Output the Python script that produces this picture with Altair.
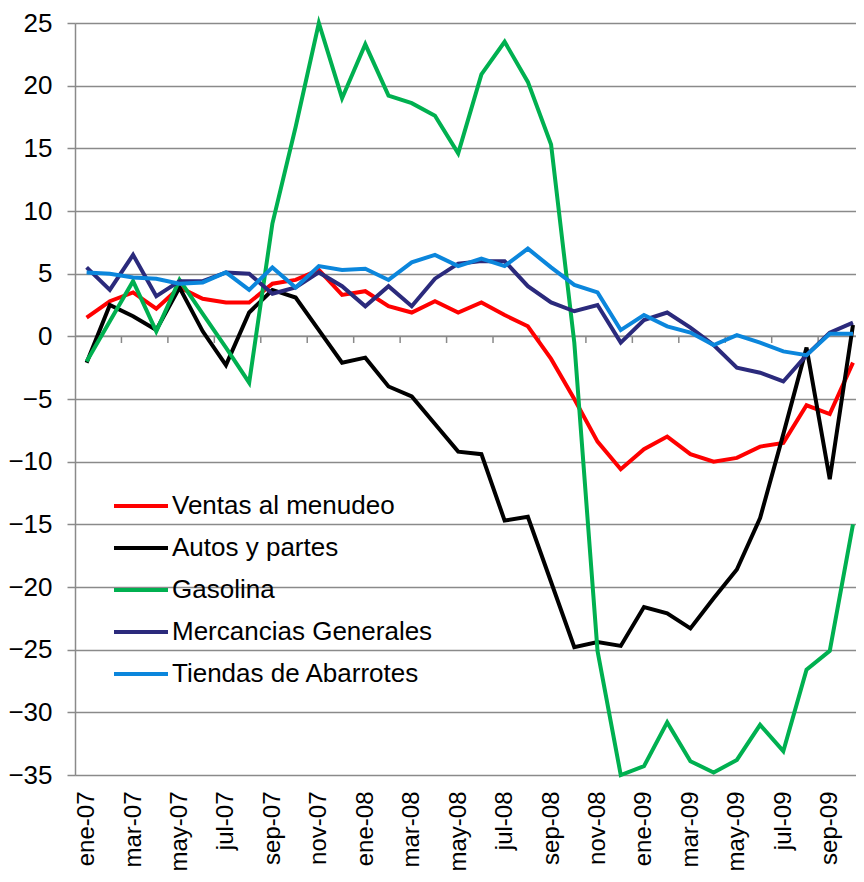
import altair as alt
import pandas as pd

meses = ["ene-07","feb-07","mar-07","abr-07","may-07","jun-07","jul-07","ago-07","sep-07","oct-07","nov-07","dic-07",
         "ene-08","feb-08","mar-08","abr-08","may-08","jun-08","jul-08","ago-08","sep-08","oct-08","nov-08","dic-08",
         "ene-09","feb-09","mar-09","abr-09","may-09","jun-09","jul-09","ago-09","sep-09","oct-09"]

series_names = ["Ventas al menudeo", "Autos y partes", "Gasolina", "Mercancias Generales", "Tiendas de Abarrotes"]
series_colors = ["#FF0000", "#000000", "#00B050", "#2B2A7C", "#0B86DC"]

ventas = [1.5, 2.8, 3.5, 2.2, 3.9, 3.0, 2.7, 2.7, 4.2, 4.5, 5.3, 3.3,
          3.6, 2.4, 1.9, 2.8, 1.9, 2.7, 1.7, 0.8, -1.8, -5.0, -8.4, -10.6,
          -9.0, -8.0, -9.4, -10.0, -9.7, -8.8, -8.5, -5.5, -6.2, -2.1]
autos = [-2.1, 2.5, 1.6, 0.5, 3.9, 0.4, -2.3, 1.9, 3.7, 3.1, 0.5, -2.1,
         -1.7, -4.0, -4.8, -7.0, -9.2, -9.4, -14.7, -14.4, -19.6, -24.8, -24.4, -24.7,
         -21.6, -22.1, -23.3, -20.9, -18.6, -14.5, -7.8, -0.9, -11.4, 0.9]
gasolina = [-2.0, 1.2, 4.4, 0.4, 4.5, 1.8, -0.9, -3.7, 9.0, 16.7, 25.0, 19.0,
            23.3, 19.2, 18.6, 17.6, 14.6, 20.9, 23.5, 20.3, 15.3, -0.5, -25.1, -35.0,
            -34.3, -30.8, -33.9, -34.8, -33.8, -31.0, -33.1, -26.6, -25.1, -15.0]
mercancias = [5.5, 3.7, 6.5, 3.2, 4.4, 4.4, 5.1, 5.0, 3.4, 3.9, 5.1, 4.0,
              2.4, 4.0, 2.4, 4.6, 5.8, 6.0, 6.0, 4.0, 2.7, 2.0, 2.5, -0.5,
              1.3, 1.9, 0.7, -0.7, -2.5, -2.9, -3.6, -1.5, 0.3, 1.1]
tiendas = [5.1, 5.0, 4.7, 4.6, 4.2, 4.3, 5.1, 3.7, 5.5, 3.9, 5.6, 5.3,
           5.4, 4.5, 5.9, 6.5, 5.6, 6.2, 5.6, 7.0, 5.5, 4.1, 3.5, 0.5,
           1.7, 0.8, 0.3, -0.7, 0.1, -0.5, -1.2, -1.5, 0.2, 0.2]

y_ticks = list(range(-35, 30, 5))

all_values = [ventas, autos, gasolina, mercancias, tiendas]
rows = []
for name, vals in zip(series_names, all_values):
    for i, v in enumerate(vals):
        rows.append({"idx": i, "mes": meses[i], "serie": name, "valor": v})
df = pd.DataFrame(rows)

n = len(meses)
label_values = list(range(0, n, 2))
tick_df = pd.DataFrame({"b": [i + 1.5 for i in range(0, n - 1, 2)], "y0": 0.0, "y1": -0.53})
zero_df = pd.DataFrame({"y": [0.0]})

months_js = "[" + ",".join("'" + m + "'" for m in meses) + "]"

FONT = "Liberation Sans"
GRID = "#8A8A8A"

x_scale = alt.Scale(domain=[-0.5, 33.13], nice=False, zero=False)
y_scale = alt.Scale(domain=[-35, 25], nice=False, zero=False)

lines = alt.Chart(df).mark_line(strokeWidth=4, strokeJoin="miter").encode(
    x=alt.X("idx:Q", scale=x_scale,
            axis=alt.Axis(values=label_values, labelExpr=months_js + "[datum.value]",
                          labelAngle=-90, labelFontSize=24, labelFont=FONT, labelColor="#000000",
                          labelPadding=16, domain=False, ticks=False, grid=False, title=None,
                          labelOverlap=False, labelFlush=False)),
    y=alt.Y("valor:Q", scale=y_scale,
            axis=alt.Axis(values=y_ticks, labelFontSize=26, labelFont=FONT, labelColor="#000000",
                          labelPadding=15, tickSize=8, tickColor=GRID, tickWidth=1.5,
                          domainColor=GRID, domainWidth=1.5,
                          grid=True, gridColor=GRID, gridWidth=1.5, title=None)),
    color=alt.Color("serie:N", scale=alt.Scale(domain=series_names, range=series_colors),
                    legend=alt.Legend(orient="none", legendX=37, legendY=454, title=None,
                                      symbolType="stroke", symbolSize=2916, symbolStrokeWidth=4,
                                      labelFontSize=26, labelFont=FONT, labelColor="#000000",
                                      labelOffset=2, rowPadding=-0.5, padding=0,
                                      labelLimit=400)),
    order=alt.Order("idx:Q"),
)

zero_line = alt.Chart(zero_df).mark_rule(color=GRID, strokeWidth=1.5).encode(
    y=alt.Y("y:Q", scale=y_scale)
)

ticks = alt.Chart(tick_df).mark_rule(color=GRID, strokeWidth=1.5).encode(
    x=alt.X("b:Q", scale=x_scale),
    y=alt.Y("y0:Q", scale=y_scale),
    y2="y1:Q",
)

chart = alt.layer(zero_line, ticks, lines).properties(
    width=781, height=752,
    autosize=alt.AutoSizeParams(type="none"),
    padding={"left": 67, "top": 15, "right": 0, "bottom": 97},
).configure_view(stroke=None).configure(background="white")

chart.save("out.html", embed_options={"renderer": "svg", "actions": False})
